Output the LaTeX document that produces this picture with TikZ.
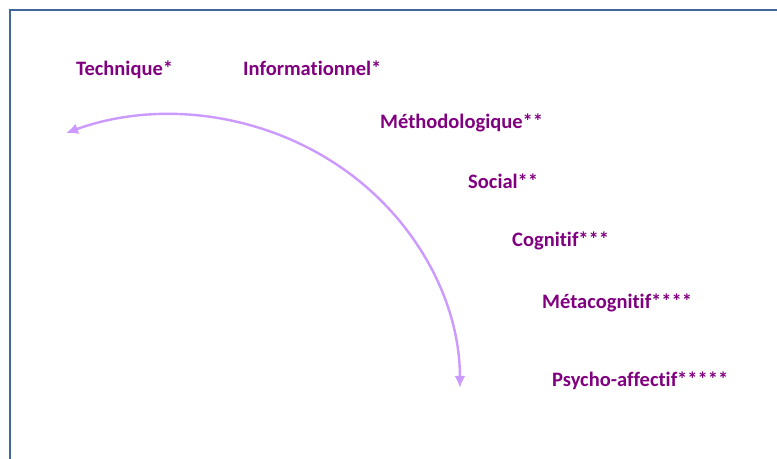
\documentclass[tikz,border=0pt]{standalone}
\usepackage{fontspec}
\setmainfont{Carlito}[RawFeature=-liga]
\usetikzlibrary{positioning}
\usetikzlibrary{arrows.meta}
\definecolor{cadre}{RGB}{65,104,154}
\definecolor{violet}{RGB}{128,0,128}
\definecolor{lavande}{RGB}{204,153,255}

\begin{document}
\begin{tikzpicture}[x=1bp,y=1bp,
 niveau/.style={anchor=base west,inner sep=0pt,text=violet,font=\fontsize{20.5bp}{24bp}\selectfont\bfseries},
 fleche/.style={lavande,line width=2.4bp,{Latex[length=12bp,width=11bp]}-{Latex[length=12bp,width=11bp]}}]
 \useasboundingbox (0,0) rectangle (777,459);
 \draw [cadre,line width=2.5bp](10,0) |- (777,449);
 \node[niveau] (tech) at (76,383) {Technique*};
 \node[niveau] (info) at (243,383) {Informationnel*};
 \node[niveau] (meth) at (380,330) {Méthodologique**};
 \node[niveau] (soc) at (468,270) {Social**};
 \node[niveau] (cogn) at (512,212) {Cognitif***};
 \node[niveau] (meta) at (542,150) {Métacognitif****};
 \node[niveau] (psy) at (552,72) {Psycho-affectif*****};
 \coordinate (gauche) at (66,326);
 \draw[fleche] (gauche) arc[start angle=111,end angle=0,x radius=290,y radius=273] coordinate (bas);
\end{tikzpicture}
\end{document}
